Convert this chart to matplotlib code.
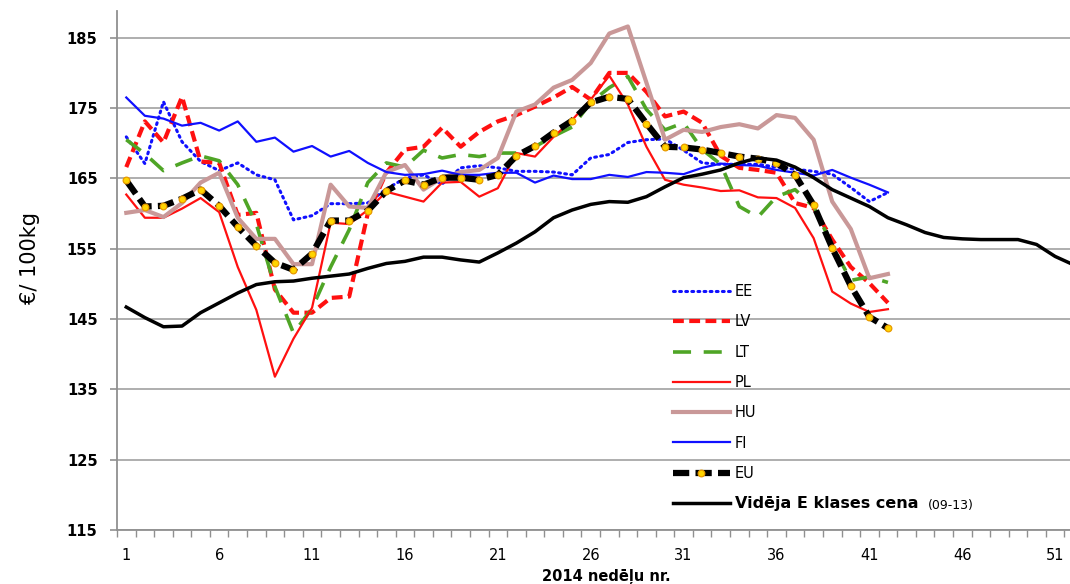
import numpy as np
import matplotlib
matplotlib.use("Agg")
from matplotlib import pyplot as plt

# nedēļas (weeks)
weeks = list(range(1, 43))
weeks_avg = list(range(1, 53))

ee = [170.9, 167.1, 175.9, 170.2, 167.4, 166.1, 167.2, 165.5, 164.8, 159.1,
      159.7, 161.4, 161.4, 161.5, 163.5, 165.0, 165.5, 164.2, 166.5, 166.8,
      166.5, 166.0, 166.0, 165.9, 165.5, 167.9, 168.4, 170.1, 170.5, 170.6,
      169.0, 167.2, 167.0, 167.0, 167.0, 166.6, 166.3, 166.0, 165.6, 163.7,
      161.7, 163.0]
lv = [166.6, 173.1, 170.1, 176.6, 167.4, 167.2, 159.8, 160.1, 149.2, 145.9,
      145.9, 148.0, 148.2, 160.0, 165.8, 169.1, 169.5, 172.2, 169.5, 171.6,
      173.1, 174.0, 175.2, 176.5, 178.0, 176.2, 180.0, 180.0, 177.3, 173.8,
      174.5, 172.9, 168.2, 166.5, 166.2, 165.8, 161.5, 160.8, 156.3, 152.4,
      150.1, 147.3]
lt = [170.5, 168.5, 166.1, 167.2, 168.2, 167.5, 164.1, 158.5, 149.6, 143.0,
      146.5, 152.4, 157.7, 164.4, 167.2, 166.6, 169.0, 167.9, 168.4, 168.1,
      168.6, 168.6, 169.5, 171.0, 172.3, 175.8, 177.9, 179.5, 174.8, 171.9,
      172.9, 169.1, 167.0, 161.0, 159.5, 162.4, 163.4, 161.0, 155.5, 150.5,
      151.0, 150.2]
pl = [162.7, 159.4, 159.4, 160.7, 162.2, 160.2, 152.4, 146.3, 136.8, 142.2,
      146.6, 158.7, 158.5, 160.5, 163.1, 162.4, 161.7, 164.4, 164.5, 162.4,
      163.6, 168.6, 168.1, 170.9, 173.3, 176.2, 179.6, 175.5, 169.5, 164.8,
      164.1, 163.7, 163.2, 163.3, 162.3, 162.2, 160.8, 156.5, 148.9, 147.2,
      146.0, 146.4]
hu = [160.1, 160.5, 159.5, 161.5, 164.4, 165.8, 159.4, 156.4, 156.4, 152.8,
      152.8, 164.1, 161.0, 160.8, 165.9, 166.9, 163.4, 165.1, 165.9, 166.2,
      167.9, 174.5, 175.5, 177.9, 179.0, 181.4, 185.6, 186.6, 178.6, 170.5,
      171.9, 171.6, 172.3, 172.7, 172.1, 174.0, 173.6, 170.5, 161.7, 157.8,
      150.8, 151.4]
fi = [176.5, 173.9, 173.5, 172.5, 172.9, 171.8, 173.1, 170.2, 170.8, 168.8,
      169.6, 168.1, 168.9, 167.2, 165.9, 165.5, 165.6, 166.1, 165.5, 165.5,
      165.8, 165.8, 164.4, 165.4, 164.9, 164.9, 165.5, 165.2, 165.9, 165.8,
      165.6, 166.5, 167.1, 166.9, 166.8, 166.2, 165.8, 165.4, 166.2, 165.1,
      164.1, 163.0]
eu = [164.7, 161.0, 161.1, 162.1, 163.4, 161.1, 158.1, 155.4, 153.0, 152.0,
      154.3, 159.0, 159.0, 160.4, 163.2, 164.7, 164.1, 165.1, 165.1, 164.8,
      165.5, 168.2, 169.6, 171.5, 173.2, 175.8, 176.6, 176.3, 172.8, 169.5,
      169.4, 169.1, 168.6, 168.1, 167.8, 167.2, 165.5, 161.2, 155.1, 149.7,
      145.3, 143.7]
avg_09_13 = [146.7, 145.2, 143.9, 144.0, 145.9, 147.3, 148.7, 149.9, 150.3, 150.4,
             150.8, 151.1, 151.4, 152.2, 152.9, 153.2, 153.8, 153.8, 153.4, 153.1,
             154.4, 155.8, 157.4, 159.4, 160.5, 161.3, 161.7, 161.6, 162.4, 163.8,
             165.1, 165.6, 166.2, 167.2, 167.9, 167.6, 166.6, 165.1, 163.4, 162.2,
             161.0, 159.4, 158.4, 157.3, 156.6, 156.4, 156.3, 156.3, 156.3, 155.6,
             153.9, 152.7]

W, H = 1070, 584
fig = plt.figure(figsize=(W / 100, H / 100), dpi=100)
ax = fig.add_axes([117 / W, 54 / H, 966 / W, 519 / H])

ax.plot(weeks, ee, color="#1010ff", lw=2.2, linestyle=(0, (0.6, 1.4)),
        dash_capstyle="round", label="EE")
ax.plot(weeks, lv, color="#ff1010", lw=3, linestyle=(0, (2.6, 1.3)), label="LV")
ax.plot(weeks, lt, color="#4fa526", lw=2.6, linestyle=(0, (5, 3.5)), label="LT")
ax.plot(weeks, pl, color="#ff1010", lw=1.6, label="PL")
ax.plot(weeks, hu, color="#c99898", lw=3, label="HU")
ax.plot(weeks, fi, color="#1010ff", lw=1.6, label="FI")
ax.plot(weeks, eu, color="black", lw=4.5, linestyle=(0, (2.6, 1.0)),
        marker="o", ms=4.8, mfc="#ffd500", mec="#e89a00", mew=0.9, label="EU")
ax.plot(weeks_avg, avg_09_13, color="black", lw=2.5,
        label="Vidēja E klases cena")

ax.set_xlim(0.5, 52.5)
ax.set_ylim(115, 188.8)
ax.set_yticks(np.arange(115, 186, 10))
ax.set_xticks(np.arange(1, 53, 5))
ax.set_xticks(np.arange(0.5, 53, 1), minor=True)
ax.grid(axis="y", color="#a8a8a8", lw=1.3)
ax.set_axisbelow(True)

for s in ["top", "right"]:
    ax.spines[s].set_visible(False)
for s in ["left", "bottom"]:
    ax.spines[s].set_color("#909090")
    ax.spines[s].set_linewidth(1.3)

ax.tick_params(axis="y", length=5, width=1.2, color="#909090", pad=9,
               labelsize=10.5)
ax.tick_params(axis="x", which="major", length=0, pad=13, labelsize=10.5)
ax.tick_params(axis="x", which="minor", length=5, width=1, color="#909090")
for t in ax.get_yticklabels():
    t.set_fontweight("bold")

fig.text(30 / W, 1 - 258 / H, "€/ 100kg", rotation=90, fontsize=15,
         ha="center", va="center")
fig.text(606 / W, 1 - 576 / H, "2014 nedēļu nr.", fontsize=10.5,
         fontweight="bold", ha="center", va="center")

leg = ax.legend(loc="upper left", bbox_to_anchor=(673 / W, 1 - 284 / H),
                bbox_transform=fig.transFigure, frameon=False, fontsize=10.5,
                handlelength=3.9, handletextpad=0.35, labelspacing=1.05,
                borderpad=0, borderaxespad=0, numpoints=1)
leg.get_texts()[-1].set_fontweight("bold")
leg.get_texts()[-1].set_fontsize(11.5)
fig.text(928 / W, 1 - 505 / H, "(09-13)", fontsize=9, ha="left", va="center")

fig.savefig("out.png", dpi=100)
